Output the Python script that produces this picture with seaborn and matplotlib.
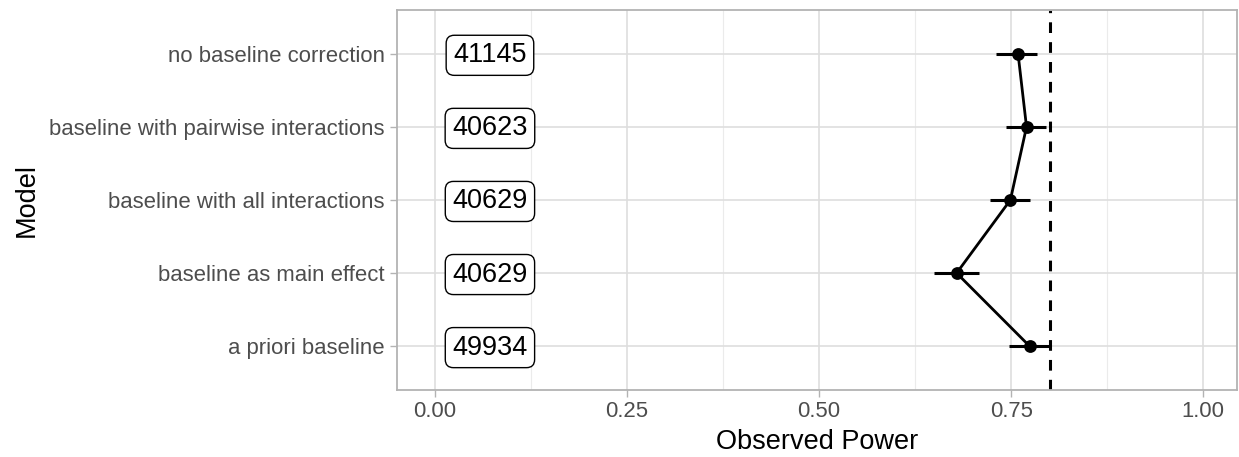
import matplotlib
matplotlib.use("Agg")
import matplotlib.pyplot as plt
import seaborn as sns
import pandas as pd

# data (bottom row first)
models = [
    "a priori baseline",
    "baseline as main effect",
    "baseline with all interactions",
    "baseline with pairwise interactions",
    "no baseline correction",
]
power = [0.774, 0.679, 0.749, 0.770, 0.759]
lower = [0.747, 0.649, 0.722, 0.743, 0.730]
upper = [0.800, 0.708, 0.775, 0.795, 0.784]
counts = ["49934", "40629", "40629", "40623", "41145"]
target_power = 0.80
label_x = 0.0715

x_ticks = [0.00, 0.25, 0.50, 0.75, 1.00]
x_minor = [0.125, 0.375, 0.625, 0.875]

sns.set_theme(style="white")
plt.rcParams["font.family"] = ["Liberation Sans", "DejaVu Sans"]

df = pd.DataFrame({"model": models, "power": power, "lower": lower,
                   "upper": upper, "n": counts})
df["pos"] = range(len(df))

fig = plt.figure(figsize=(12.39, 4.57), dpi=100)
ax = fig.add_axes([397 / 1239, 1 - 390 / 457, 840 / 1239, 380 / 457])

# grid (major + minor like theme_light)
for xv in x_minor:
    ax.axvline(xv, color="#EBEBEB", lw=0.8, zorder=0)
for xv in x_ticks:
    ax.axvline(xv, color="#DEDEDE", lw=1.2, zorder=0)
for yv in df["pos"]:
    ax.axhline(yv, color="#DEDEDE", lw=1.2, zorder=0)

ax.axvline(target_power, color="black", lw=2.2, ls=(0, (3.5, 3)), zorder=2)

ax.hlines(df["pos"], df["lower"], df["upper"], color="black", lw=2.2, zorder=3)
sns.lineplot(data=df, x="power", y="pos", sort=False, orient="y",
             color="black", lw=2.0, ax=ax, zorder=3)
sns.scatterplot(data=df, x="power", y="pos", color="black", s=85,
                edgecolor="black", linewidth=0, ax=ax, zorder=4)

for _, row in df.iterrows():
    ax.text(label_x, row["pos"] - 0.02, row["n"], ha="center", va="center",
            fontsize=19.5, color="black", zorder=5,
            bbox=dict(boxstyle="round,pad=0.26,rounding_size=0.3",
                      fc="white", ec="black", lw=1.0))

ax.set_xlim(-0.0495, 1.044)
ax.set_ylim(-0.6, len(df) - 0.4)
ax.set_xticks(x_ticks)
ax.set_xticklabels(["0.00", "0.25", "0.50", "0.75", "1.00"])
ax.set_yticks(df["pos"])
ax.set_yticklabels(df["model"])

ax.tick_params(axis="both", length=5, width=1, color="#B3B3B3",
               labelsize=15.9, labelcolor="#4D4D4D", pad=4, bottom=True, left=True)
ax.tick_params(axis="x", pad=3)
ax.set_xlabel("Observed Power", fontsize=19.5, color="black", labelpad=5)
ax.set_ylabel("Model", fontsize=19.5, color="black", labelpad=7)

for sp in ax.spines.values():
    sp.set_color("#B3B3B3")
    sp.set_linewidth(1.3)

fig.savefig("out.png", dpi=100)
